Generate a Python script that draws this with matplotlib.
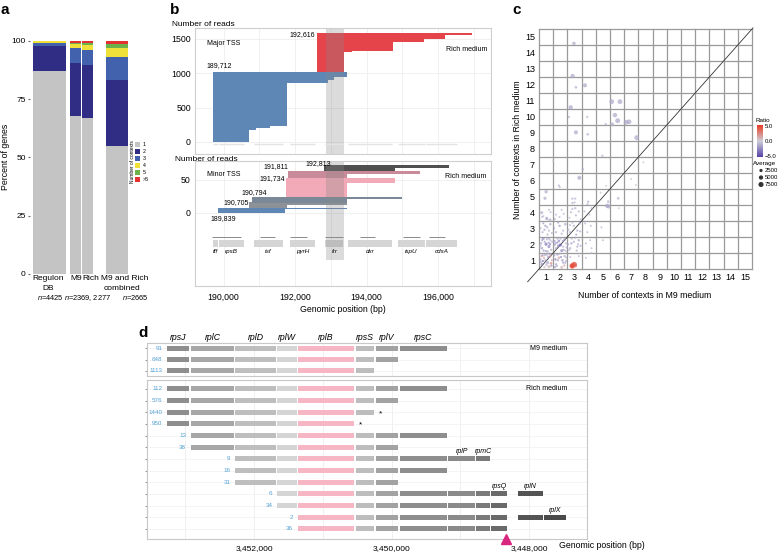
import numpy as np
import matplotlib.pyplot as plt
import matplotlib.transforms as mtransforms
from matplotlib.colors import LinearSegmentedColormap, Normalize
from matplotlib.cm import ScalarMappable
from matplotlib.patches import Rectangle

plt.rcParams['font.family'] = ['Liberation Sans', 'DejaVu Sans']
plt.rcParams['mathtext.fontset'] = 'custom'
plt.rcParams['mathtext.it'] = 'Liberation Sans:italic'
plt.rcParams['mathtext.rm'] = 'Liberation Sans'

# ---------------- panel a data ----------------
a_labels = ['1', '2', '3', '4', '5', '>5']
a_colors = ['#c4c4c4', '#2f2d84', '#4262ad', '#efe13a', '#6cb24c', '#e3322f']
a_regulon = [87.0, 10.9, 1.2, 0.6, 0.2, 0.1]
a_m9 = [67.7, 22.6, 6.7, 1.6, 0.5, 0.9]
a_rich = [66.7, 22.9, 6.4, 2.1, 0.8, 1.1]
a_comb = [55.0, 28.1, 9.8, 3.8, 1.7, 1.6]

# ---------------- panel b data ----------------
blue_tss = 189712
blue_edges = [0, 170, 200, 235, 860, 900, 950, 1020]
blue_ends = [190700, 190900, 191300, 191760, 192930, 193100, 193460]
red_tss = 192616
red_edges = [1020, 1315, 1330, 1455, 1495, 1555, 1582]
red_ends = [193380, 193600, 194750, 195600, 196200, 196950]

minor_tss = [189839, 190705, 190794, 191734, 191811, 192813]
minor_colors = ['#5e87b5', '#8d9299', '#7b8897', '#f3aab8', '#c98a99', '#4f4f4f']
minor_edges = [[0, 5, 6.5], [6.5, 11, 16], [15, 21, 24], [24, 45, 53], [53, 58, 63], [63, 68, 72]]
minor_ends = [[191730, 193450], [191760, 193460], [193460, 195000],
              [193460, 194800], [193460, 195500], [194800, 196300]]

b_genes = ['tff', 'rpsB', 'tsf', 'pyrH', 'frr', 'dxr', 'ispU', 'cdsA']
b_gene_start = [189693, 189860, 190837, 191869, 192846, 193488, 194883, 195664]
b_gene_end = [189833, 190558, 191674, 192567, 193348, 194716, 195636, 196529]
b_line_start = [189685, 191032, 191869, 192846, 193822, 195022, 195747]
b_line_end = [190474, 191451, 192335, 193348, 194241, 195496, 196193]
band = [192873, 193375]

# ---------------- panel c data ----------------
sp_x = [2.96, 2.87, 3.10, 3.74, 2.73, 2.61, 3.90, 5.62, 6.20, 5.85,
        6.04, 5.66, 5.20, 6.63, 6.84, 3.10, 3.93, 7.38, 4.96, 7.85,
        1.50, 3.58, 3.34, 6.98, 7.33, 4.56, 5.22, 1.90, 1.96, 4.84,
        6.08, 5.38, 2.85, 3.05, 2.85, 3.00, 3.96, 3.92, 5.30, 5.40,
        6.12, 3.05, 2.85, 3.30, 2.75, 1.00, 0.92, 0.69, 1.04, 1.27]
sp_y = [14.60, 12.56, 11.86, 11.98, 10.60, 10.00, 10.00, 10.96, 10.96, 10.12,
        9.77, 9.56, 9.56, 9.67, 9.70, 9.04, 8.92, 8.71, 7.58, 7.17,
        7.25, 6.73, 6.20, 6.12, 5.75, 5.92, 5.70, 5.72, 5.62, 5.27,
        4.92, 4.71, 4.90, 4.90, 4.62, 4.66, 4.70, 4.55, 4.45, 4.40,
        4.30, 4.30, 4.25, 4.10, 4.05, 5.33, 4.92, 4.02, 3.67, 3.56]
sp_ratio = [-1.5, -1.5, -1.0, -1.5, -1.5, -1.0, -1.0, -1.5, -1.5, -1.5,
            -1.5, -1.2, -1.0, -1.5, -1.5, -1.5, -1.0, -1.5, -1.0, -0.5,
            -0.5, -1.2, -1.5, -0.5, -0.5, -0.5, -0.5, -1.0, -1.0, -0.5,
            -1.0, -1.0, -1.0, -1.0, -1.0, -1.0, -1.0, -1.0, -1.5, -1.5,
            -0.5, -1.0, -1.0, -1.0, -1.0, -1.2, -1.2, -1.2, -1.2, -1.2]
sp_avg = [3000, 5000, 1500, 4500, 5500, 800, 800, 6500, 6500, 5500,
          7000, 3000, 900, 6500, 6500, 4500, 1500, 6500, 900, 300,
          300, 1500, 4500, 300, 300, 300, 300, 600, 600, 300,
          1500, 1500, 900, 700, 800, 700, 900, 700, 5000, 4000,
          300, 900, 700, 800, 700, 3000, 2500, 2500, 2500, 2500]

dn_x = [0.70, 0.85, 1.10, 1.30, 0.75, 1.20, 0.95, 1.35, 0.60, 1.05,
        1.70, 1.90, 2.20, 2.30, 1.80, 2.10, 2.40, 1.65,
        0.70, 0.90, 1.20, 1.30, 0.80, 1.10, 0.65, 1.35, 1.00, 1.20,
        1.70, 1.90, 2.20, 2.30, 1.80, 2.10, 2.40, 1.65, 2.00, 2.25, 1.85,
        0.75, 0.95, 1.20, 1.30, 0.80, 1.10, 1.70, 1.95, 2.20, 2.35, 1.85, 2.10,
        2.70, 2.95, 3.20, 3.30, 2.80, 3.15, 2.70, 2.95, 3.20, 3.35, 2.85,
        2.80, 2.90, 3.00, 2.85, 3.05, 3.30, 2.70,
        3.80, 4.10, 4.20, 3.90, 4.15, 3.75, 3.80, 4.20, 5.00, 4.90, 0.80, 1.20, 1.70, 2.10, 4.20, 3.70]
dn_y = [0.80, 1.20, 0.90, 1.30, 1.35, 0.65, 1.05, 0.85, 1.10, 1.40,
        0.80, 1.20, 0.90, 1.30, 1.40, 0.60, 1.00, 1.10,
        1.80, 2.20, 1.90, 2.30, 2.40, 1.60, 2.10, 1.70, 2.05, 2.40,
        1.80, 2.25, 1.90, 2.35, 2.40, 1.65, 2.10, 2.10, 2.00, 1.70, 1.95,
        2.80, 3.20, 2.90, 3.30, 3.35, 2.65, 2.80, 3.20, 2.90, 3.30, 3.40, 2.70,
        1.80, 2.20, 1.90, 2.30, 2.40, 1.65, 2.80, 3.20, 2.90, 3.35, 3.40,
        0.70, 0.75, 0.80, 0.65, 0.72, 1.30, 1.25,
        2.10, 2.30, 1.80, 2.80, 3.20, 3.35, 1.20, 1.50, 2.30, 3.10, 3.80, 4.20, 3.90, 4.20, 4.30, 4.10]
dn_ratio = [-2.5, 1.5, -1.5, 2.0, -3.0, 1.0, -1.5, 2.5, -2.0, -1.0,
            -1.5, 1.5, -2.5, -1.0, -2.0, 1.0, -1.5, -3.0,
            -2.0, -1.5, -3.0, -1.0, -2.5, -1.5, -2.0, -1.0, -3.5, -1.5,
            -1.5, -2.5, -1.0, -2.0, -1.5, -3.0, -1.0, -2.0, -4.0, -1.5, -2.5,
            -1.5, -2.0, -1.0, -1.5, -2.0, -1.0, -1.5, -2.0, -1.0, -1.5, -2.0, -1.0,
            -1.5, -1.0, -2.0, -1.5, -1.0, -1.5, -1.5, -1.0, -2.0, -1.5, -1.0,
            5.0, 5.0, 4.5, 5.0, 4.0, -1.0, -1.0,
            -1.0, -1.0, -1.0, -1.0, -1.0, -1.0, -1.0, -1.0, -1.0, -1.0, -1.0, -1.0, -1.0, -1.0, -1.0, -1.0]
dn_avg = [1500, 800, 2500, 1200, 600, 2000, 900, 1500, 700, 1100,
          900, 1500, 600, 1200, 800, 2000, 700, 1000,
          1200, 800, 2000, 600, 1500, 900, 700, 1100, 2500, 800,
          900, 1500, 700, 1200, 800, 2000, 600, 1000, 2500, 700, 1300,
          600, 900, 700, 1200, 500, 800, 600, 900, 700, 1200, 500, 800,
          700, 900, 500, 1100, 700, 600, 700, 900, 500, 1100, 700,
          5500, 7000, 6500, 5000, 4000, 400, 400,
          400, 400, 400, 400, 400, 400, 400, 400, 400, 400, 400, 400, 400, 400, 400, 400]

dn2_x = [0.62, 0.88, 1.15, 1.40, 0.78, 1.02, 1.25, 0.68, 0.92, 1.38,
         1.58, 1.82, 2.05, 2.28, 2.42, 1.62, 1.95, 2.15, 2.35, 1.75,
         0.60, 0.82, 1.05, 1.28, 1.42, 0.72, 0.98, 1.18, 1.60, 2.38,
         1.60, 1.78, 2.02, 2.18, 2.45, 0.62, 0.88, 1.08, 1.40, 1.55,
         2.55, 2.62, 2.78, 3.05, 3.25, 3.42, 2.58, 3.12, 3.40, 2.68,
         0.72, 1.05, 1.32, 1.62, 1.95, 2.25, 2.65, 3.10, 3.45, 4.05]
dn2_y = [0.95, 0.62, 1.25, 1.05, 1.00, 0.75, 1.45, 1.30, 1.38, 0.70,
         1.35, 1.05, 1.25, 0.72, 1.22, 0.62, 1.45, 1.05, 0.88, 0.70,
         1.95, 1.65, 2.35, 2.05, 2.20, 2.30, 1.62, 2.15, 2.25, 1.62,
         2.00, 2.15, 2.40, 2.25, 1.85, 3.05, 2.95, 3.10, 2.75, 3.05,
         2.05, 1.70, 2.10, 2.45, 2.05, 1.95, 2.95, 2.65, 2.85, 3.25,
         3.75, 3.62, 4.05, 3.62, 3.75, 3.95, 3.70, 3.85, 3.60, 3.90]
dn2_ratio = [-1.5, 1.0, -2.0, 1.5, -3.0, -1.0, -2.0, 2.0, -1.5, -2.5,
             -2.0, -1.5, -3.0, 1.0, -1.0, -2.0, -1.5, -2.5, -1.0, -2.0,
             -1.0, -2.0, -1.5, -3.0, -1.0, -2.0, -1.5, -2.5, -2.0, -1.0,
             -1.5, -3.0, -1.0, -2.0, -1.5, -1.0, -2.0, -1.5, -1.0, -2.0,
             -1.5, -1.0, -2.0, -1.5, -1.0, -1.5, -1.0, -2.0, -1.5, -1.0,
             -1.0, -1.5, -1.0, -1.5, -1.0, -1.0, -1.0, -1.5, -1.0, -1.0]
dn2_avg = [800, 500, 1200, 600, 900, 700, 1000, 500, 800, 600,
           700, 900, 500, 1100, 600, 800, 500, 900, 700, 600,
           600, 800, 500, 900, 700, 600, 800, 500, 700, 600,
           700, 500, 900, 600, 700, 500, 600, 800, 500, 700,
           500, 600, 800, 500, 600, 500, 700, 500, 600, 500,
           400, 500, 400, 500, 400, 400, 400, 500, 400, 400]

# ---------------- panel d data ----------------
d_genes = ['rpsJ', 'rplC', 'rplD', 'rplW', 'rplB', 'rpsS', 'rplV', 'rpsC',
           'rplP', 'rpmC', 'rpsQ', 'rplN', 'rplX']
d_left = [3453260, 3452911, 3452270, 3451660, 3451360, 3450521, 3450230, 3449880,
          3449178, 3448770, 3448560, 3448165, 3447786]
d_right = [3452950, 3452295, 3451674, 3451383, 3450550, 3450255, 3449905, 3449193,
           3448785, 3448575, 3448320, 3447801, 3447466]
d_colors = ['#8e8e8e', '#a7a7a7', '#bebebe', '#d5d5d5', '#f6b6c4', '#bdbdbd', '#a2a2a2', '#8e8e8e',
            '#8a8a8a', '#7a7a7a', '#6a6a6a', '#545454', '#4a4a4a']
m9_counts = ['91', '648', '1113']
m9_first = [0, 0, 0]
m9_last = [7, 6, 5]
rich_counts = ['112', '576', '1440', '950', '13', '38', '9', '16', '31', '6', '34', '2', '36']
rich_first = [0, 0, 0, 0, 1, 1, 2, 2, 2, 3, 3, 4, 4]
rich_last = [7, 6, 5, 4, 7, 6, 9, 7, 6, 10, 10, 10, 10]
rich_extra_rows = [9, 11, 11]
rich_extra_genes = [11, 11, 12]
rich_star_rows = [2, 3]
rich_label_rows = [6, 6, 9, 9, 11]
rich_label_genes = [8, 9, 10, 11, 12]
tri_pos = 3448339

# ---------------- figure ----------------
W, H = 780.0, 553.0
fig = plt.figure(figsize=(7.8, 5.53), dpi=100)


def px_axes(x0, y0, x1, y1):
    return fig.add_axes([x0 / W, 1 - y1 / H, (x1 - x0) / W, (y1 - y0) / H])


def px_text(x, y, s, **kw):
    fig.text(x / W, 1 - y / H, s, **kw)


# panel labels
for lab, x in [('a', 5), ('b', 175), ('c', 517)]:
    px_text(x, 10, lab, fontsize=11, fontweight='bold', ha='center', va='center')
px_text(143, 333, 'd', fontsize=11, fontweight='bold', ha='center', va='center')

# ---- a ----
ax = px_axes(30, 40.7, 130, 274)
a_pos = [49.5, 75.5, 87.5, 117]
a_wid = [33, 11, 11, 22]
vals = np.array([a_regulon, a_m9, a_rich, a_comb])
bottom = np.zeros(4)
for k in range(6):
    ax.bar(a_pos, vals[:, k], width=a_wid, bottom=bottom, color=a_colors[k], linewidth=0)
    bottom += vals[:, k]
ax.set_xlim(30, 130)
ax.set_ylim(0, 100)
ax.set_xticks([])
ax.set_yticks([0, 25, 50, 75, 100])
ax.tick_params(axis='y', labelsize=6, length=1.5, pad=1.5, color='#666666')
for s in ax.spines.values():
    s.set_visible(False)
ax.set_ylabel('Percent of genes', fontsize=6.3, labelpad=1.5)
px_text(48, 278, 'Regulon', fontsize=6.0, ha='center', va='center')
px_text(48, 288, 'DB', fontsize=6.0, ha='center', va='center')
px_text(76, 278, 'M9', fontsize=6.0, ha='center', va='center')
px_text(91, 278, 'Rich', fontsize=6.0, ha='center', va='center')
px_text(124.5, 278, 'M9 and Rich', fontsize=6.0, ha='center', va='center')
px_text(122, 288, 'combined', fontsize=6.0, ha='center', va='center')
px_text(50, 298, '$n$=4425', fontsize=5.3, ha='center', va='center')
px_text(88, 298, '$n$=2369, 2277', fontsize=5.3, ha='center', va='center')
px_text(135.5, 298, '$n$=2665', fontsize=5.3, ha='center', va='center')

lax = px_axes(130, 134, 152, 190)
lax.set_xlim(130, 152)
lax.set_ylim(190, 134)
lax.axis('off')
for k in range(6):
    lax.add_patch(Rectangle((135, 141.5 + 7 * k), 5, 5.5, color=a_colors[k], lw=0))
    lax.text(142.5, 144.2 + 7 * k, a_labels[k], fontsize=3.8, va='center', ha='left')
lax.text(132.3, 162, 'Number of contexts', rotation=90, fontsize=3.5, ha='center', va='center')

# ---- b ----
xlim_b = (189200, 197480)
b1 = px_axes(195, 28, 491, 154)
b2 = px_axes(195, 161, 491, 286)
for bx in (b1, b2):
    bx.set_xlim(*xlim_b)
    bx.set_xticks([190000, 192000, 194000, 196000])
    bx.set_xticks([191000, 193000, 195000, 197000], minor=True)
    bx.grid(True, which='both', axis='x', color='#eeeeee', lw=0.6)
    bx.grid(True, which='major', axis='y', color='#eeeeee', lw=0.6)
    bx.set_axisbelow(True)
    bx.tick_params(length=0, labelsize=6.3, pad=3, which='both')
    for s in bx.spines.values():
        s.set_color('#cfcfcf')
        s.set_linewidth(0.8)
b1.set_xticklabels([])
b2.set_xticklabels(['190,000', '192,000', '194,000', '196,000'])
b2.tick_params(axis='x', pad=5)

b1.set_ylim(-175, 1659)
b1.set_yticks([0, 500, 1000, 1500])
lo = np.array(blue_edges[:-1])
hi = np.array(blue_edges[1:])
b1.barh(lo, np.array(blue_ends) - blue_tss, left=blue_tss, height=hi - lo, align='edge',
        color='#5e87b5', lw=0)
lo = np.array(red_edges[:-1])
hi = np.array(red_edges[1:])
b1.barh(lo, np.array(red_ends) - red_tss, left=red_tss, height=hi - lo, align='edge',
        color='#e5444b', lw=0)
b1.hlines([-25] * len(b_gene_start), b_gene_start, b_gene_end, color='#e3e3e3', lw=1.0)
b1.axvspan(band[0], band[1], color='#888888', alpha=0.3, lw=0)
b1.text(189530, 1437, 'Major TSS', fontsize=5, va='center')
b1.text(blue_tss + 157, 1106, '189,712', fontsize=5, ha='center', va='center')
b1.text(red_tss - 50, 1557, '192,616', fontsize=5, ha='right', va='center')
b1.text(197390, 1339, 'Rich medium', fontsize=5, ha='right', va='center')

b2.set_ylim(-111, 78.3)
b2.set_yticks([0, 50])
for i in range(len(minor_tss)):
    e = np.array(minor_edges[i])
    b2.barh(e[:-1], np.array(minor_ends[i]) - minor_tss[i], left=minor_tss[i],
            height=e[1:] - e[:-1], align='edge', color=minor_colors[i], lw=0)
b2.barh([-52] * len(b_gene_start), np.array(b_gene_end) - np.array(b_gene_start),
        left=b_gene_start, height=10.5, align='edge', color='#d5d5d5', lw=0)
b2.hlines([-37.5] * len(b_line_start), b_line_start, b_line_end, color='#8a8a8a', lw=0.7)
for g, s0, s1 in zip(b_genes, b_gene_start, b_gene_end):
    b2.text((s0 + s1) / 2, -58, g, fontsize=4.5, style='italic', ha='center', va='center')
b2.add_patch(Rectangle((band[0], -72), band[1] - band[0], 151, color='#888888', alpha=0.3, lw=0))
b2.text(189530, 58.6, 'Minor TSS', fontsize=5, va='center')
b2.text(197350, 55, 'Rich medium', fontsize=5, ha='right', va='center')
b2.text(minor_tss[0] - 200, -3, '189,839', fontsize=5, ha='left', va='top')
b2.text(minor_tss[1] - 10, 16, '190,705', fontsize=5, ha='right', va='center')
b2.text(minor_tss[2] + 70, 30, '190,794', fontsize=5, ha='center', va='center')
b2.text(minor_tss[3] - 30, 52, '191,734', fontsize=5, ha='right', va='center')
b2.text(minor_tss[4], 70, '191,811', fontsize=5, ha='right', va='center')
b2.text(minor_tss[5] + 200, 75, '192,813', fontsize=5, ha='right', va='center')
px_text(172, 24.3, 'Number of reads', fontsize=6, va='center')
px_text(175, 159.3, 'Number of reads', fontsize=6, va='center')
px_text(343, 309.3, 'Genomic position (bp)', fontsize=6.3, ha='center', va='center')

# ---- c ----
cmap = LinearSegmentedColormap.from_list('ratio', ['#5640a8', '#cdcdd6', '#ea3b26'])
norm = Normalize(-5.5, 5.5)
cx = px_axes(539, 29, 752, 269)
cx.set_xlim(0.5, 15.5)
cx.set_ylim(0.5, 15.5)
for s in cx.spines.values():
    s.set_visible(False)
for k in range(16):
    cx.axhline(k + 0.5, color='#9a9a9a', lw=0.9, clip_on=False, zorder=0)
    cx.axvline(k + 0.5, color='#9a9a9a', lw=0.9, clip_on=False, zorder=0)
cx.set_xticks(range(1, 16))
cx.set_yticks(range(1, 16))
cx.tick_params(length=0, labelsize=6.5, pad=3)
cx.plot([-0.3, 15.57], [-0.3, 15.57], color='#333333', lw=0.6, clip_on=False, zorder=1)
all_x = sp_x + dn_x + dn2_x
all_y = sp_y + dn_y + dn2_y
all_r = sp_ratio + dn_ratio + dn2_ratio
all_a = np.array(sp_avg + dn_avg + dn2_avg)
cx.scatter(all_x, all_y, s=1.5 + all_a * 0.0016, c=all_r, cmap=cmap, norm=norm,
           alpha=0.7, edgecolors='none', zorder=2, clip_on=False)
px_text(518, 150, 'Number of contexts in Rich medium', rotation=90, fontsize=6.3, ha='center', va='center')
px_text(645, 295, 'Number of contexts in M9 medium', fontsize=6.3, ha='center', va='center')

cax = px_axes(757, 125, 763, 157)
cb = fig.colorbar(ScalarMappable(norm=norm, cmap=cmap), cax=cax, ticks=[-5, 0, 5])
cb.outline.set_visible(False)
cb.ax.set_yticklabels(['\u22125.0', '0.0', '5.0'])
cb.ax.tick_params(length=0, labelsize=4.3, pad=1.5)
px_text(755, 121, 'Ratio', fontsize=4.5, va='center')
px_text(753, 163, 'Average', fontsize=4.5, va='center')
lg = px_axes(755, 166, 780, 188)
lg.set_xlim(755, 780)
lg.set_ylim(188, 166)
lg.axis('off')
for k, (v, lbl) in enumerate([(2500, '2500'), (5000, '5000'), (7500, '7500')]):
    lg.scatter([761], [170.5 + 7 * k], s=1.5 + v * 0.0016, color='#333333', edgecolors='none')
    lg.text(764.5, 170.5 + 7 * k, lbl, fontsize=4.3, va='center')

# ---- d ----
xlim_d = (3453556, 3447161)


def draw_facet(ax, counts, first, last, extra_rows, extra_genes, star_rows, title, pad_top, pad_bot):
    n = len(counts)
    ax.set_xlim(*xlim_d)
    ax.set_ylim(n - 1 + pad_bot, -pad_top)
    ax.set_xticks([3452000, 3450000, 3448000])
    ax.set_xticks([3453000, 3451000, 3449000], minor=True)
    ax.set_yticks(range(n))
    ax.grid(True, which='both', axis='x', color='#eeeeee', lw=0.6)
    ax.grid(True, axis='y', color='#f2f2f2', lw=0.6)
    ax.set_axisbelow(True)
    ax.tick_params(axis='y', length=1.5, color='#999999', labelleft=False)
    ax.tick_params(axis='x', length=0, which='both')
    for s in ax.spines.values():
        s.set_color('#c8c8c8')
        s.set_linewidth(0.8)
    for i in range(n):
        genes = list(range(first[i], last[i] + 1))
        genes += [g for r, g in zip(extra_rows, extra_genes) if r == i]
        for g in genes:
            ax.barh(i, d_left[g] - d_right[g], left=d_right[g], height=0.43,
                    color=d_colors[g], lw=0)
        ax.text(d_left[first[i]] + 75, i, counts[i], fontsize=4.5, color='#55a3d6',
                ha='right', va='center')
        if i in star_rows:
            ax.text(d_right[last[i]] - 70, i + 0.1, '*', fontsize=6, ha='left', va='center')
    ax.text(3447450, 0, title, fontsize=5, ha='right', va='center')


d1 = px_axes(147, 343, 587, 376)
d2 = px_axes(147, 380, 587, 539)
draw_facet(d1, m9_counts, m9_first, m9_last, [], [], [], 'M9 medium', 0.45, 0.45)
draw_facet(d2, rich_counts, rich_first, rich_last, rich_extra_rows, rich_extra_genes,
           rich_star_rows, 'Rich medium', 0.77, 0.86)
d1.set_xticklabels([])
d2.set_xticklabels(['3,452,000', '3,450,000', '3,448,000'])
d2.tick_params(axis='x', labelsize=6, pad=4)
for r, g in zip(rich_label_rows, rich_label_genes):
    d2.text((d_left[g] + d_right[g]) / 2, r - 0.62, d_genes[g], fontsize=5, style='italic',
            ha='center', va='center')
for g in range(8):
    d1.text((d_left[g] + d_right[g]) / 2, 1.18, d_genes[g], transform=d1.get_xaxis_transform(),
            fontsize=6.3, style='italic', ha='center', va='center', clip_on=False)
trans = mtransforms.blended_transform_factory(d2.transData, d2.transAxes)
d2.plot([tri_pos], [0], marker='^', ms=6.5, color='#d9267e', transform=trans, clip_on=False, zorder=5)
px_text(559, 546, 'Genomic position (bp)', fontsize=6.3, ha='left', va='center')

fig.savefig('out.png', dpi=100)
